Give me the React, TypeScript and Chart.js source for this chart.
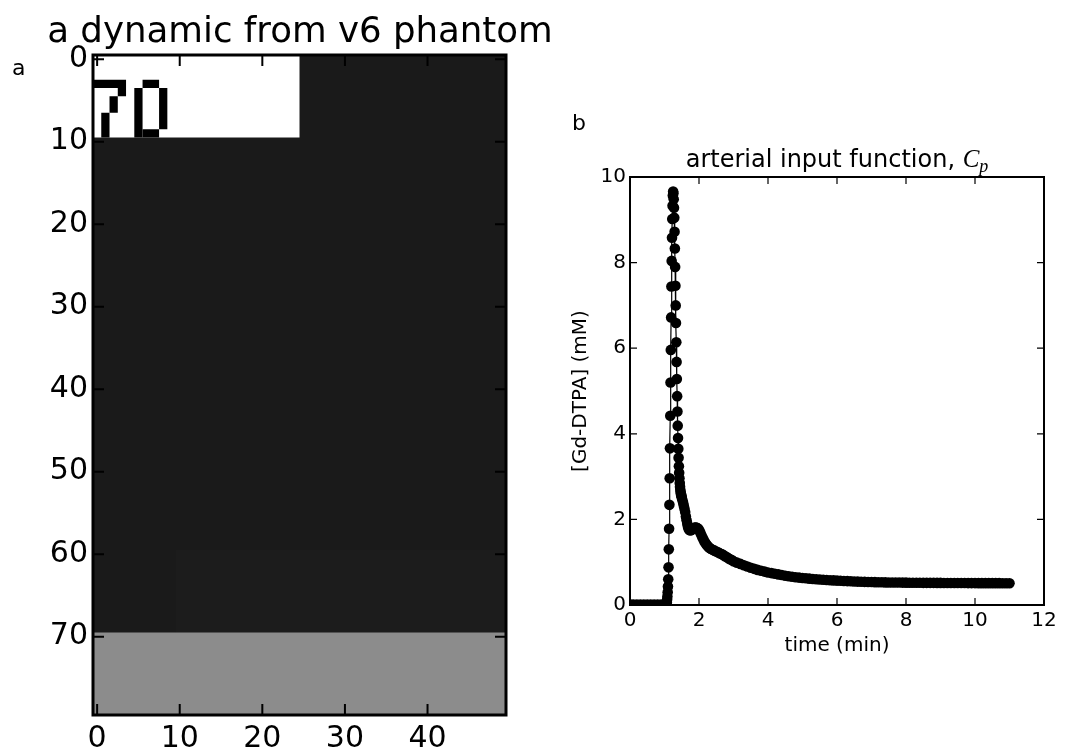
import React, { useEffect, useRef } from "react";
import { Chart, registerables } from "chart.js";

Chart.register(...registerables);

const FONT = '"DejaVu Sans", sans-serif';

// ---------- Panel a : image of the dynamic phantom frame ----------
const imgXTicks = [0, 10, 20, 30, 40];
const imgYTicks = [0, 10, 20, 30, 40, 50, 60, 70];
const imgColsRange = [-0.5, 49.5];
const imgRowsRange = [-0.5, 79.5];
// pixel blocks: [colStart, colEnd, rowStart, rowEnd, grayLevel]
const imgBlocks = [
  [0, 49, 0, 79, 26],
  [10, 49, 60, 69, 28],
  [0, 49, 70, 79, 140],
  [0, 24, 0, 9, 255],
];
// the "70" label pixels (black): [colStart, colEnd, rowStart, rowEnd]
const glyphBlocks = [
  [0, 3, 3, 3],
  [3, 3, 4, 4],
  [2, 2, 5, 6],
  [1, 1, 7, 9],
  [6, 7, 3, 3],
  [5, 5, 4, 9],
  [8, 8, 4, 8],
  [6, 7, 9, 9],
];

// ---------- Panel b : arterial input function ----------
const aifXTicks = [0, 2, 4, 6, 8, 10, 12];
const aifYTicks = [0, 2, 4, 6, 8, 10];

const baselineTime = [0, 0.1, 0.2, 0.3, 0.4, 0.5, 0.6, 0.7, 0.8, 0.9, 1.0, 1.05];
const baselineConc = [0.01, 0.01, 0.01, 0.01, 0.01, 0.01, 0.01, 0.01, 0.01, 0.01, 0.01, 0.01];

const riseTime = [1.058, 1.067, 1.075, 1.083, 1.092, 1.1, 1.108, 1.117, 1.125, 1.133, 1.142, 1.15,
  1.158, 1.167, 1.175, 1.183, 1.192, 1.2, 1.208, 1.217, 1.225, 1.233, 1.242, 1.25];
const riseConc = [0.02, 0.06, 0.12, 0.2, 0.3, 0.43, 0.6, 0.88, 1.3, 1.78, 2.34, 2.96,
  3.66, 4.42, 5.2, 5.96, 6.72, 7.44, 8.04, 8.58, 9.02, 9.33, 9.57, 9.66];

const fallTime = [1.258, 1.267, 1.275, 1.283, 1.292, 1.3, 1.308, 1.317, 1.325, 1.333, 1.342,
  1.35, 1.358, 1.367, 1.375, 1.383, 1.392, 1.4, 1.408, 1.417, 1.425];
const fallConc = [9.62, 9.48, 9.28, 9.05, 8.72, 8.33, 7.9, 7.46, 7.0, 6.59, 6.14,
  5.68, 5.28, 4.88, 4.52, 4.19, 3.9, 3.65, 3.44, 3.24, 3.09];

const washTime = [1.433, 1.442, 1.45, 1.458, 1.467, 1.475, 1.483, 1.492, 1.5,
  1.52, 1.54, 1.56, 1.58, 1.6, 1.62, 1.64, 1.66, 1.68, 1.7,
  1.72, 1.74, 1.76, 1.78, 1.8, 1.83, 1.86, 1.89, 1.92, 1.95, 1.98,
  2.01, 2.04, 2.07, 2.1, 2.13, 2.16, 2.19, 2.22, 2.25, 2.28, 2.31,
  2.35, 2.4, 2.45, 2.5, 2.55, 2.6, 2.65, 2.7, 2.75, 2.8, 2.85, 2.9, 2.95];
const washConc = [2.96, 2.85, 2.76, 2.69, 2.64, 2.6, 2.57, 2.54, 2.51,
  2.45, 2.39, 2.32, 2.25, 2.17, 2.07, 1.98, 1.9, 1.83, 1.78,
  1.755, 1.745, 1.745, 1.755, 1.77, 1.79, 1.805, 1.81, 1.81, 1.8, 1.78,
  1.74, 1.69, 1.63, 1.58, 1.53, 1.48, 1.44, 1.41, 1.38, 1.35, 1.33,
  1.31, 1.29, 1.27, 1.25, 1.23, 1.21, 1.19, 1.17, 1.14, 1.12, 1.09, 1.07, 1.05];

const tailTime = [3.0, 3.1, 3.2, 3.3, 3.4, 3.5, 3.6, 3.7, 3.8, 3.9,
  4.0, 4.1, 4.2, 4.3, 4.4, 4.5, 4.6, 4.7, 4.8, 4.9,
  5.0, 5.1, 5.2, 5.3, 5.4, 5.5, 5.6, 5.7, 5.8, 5.9,
  6.0, 6.1, 6.2, 6.3, 6.4, 6.5, 6.6, 6.7, 6.8, 6.9,
  7.0, 7.1, 7.2, 7.3, 7.4, 7.5, 7.6, 7.7, 7.8, 7.9,
  8.0, 8.1, 8.2, 8.3, 8.4, 8.5, 8.6, 8.7, 8.8, 8.9,
  9.0, 9.1, 9.2, 9.3, 9.4, 9.5, 9.6, 9.7, 9.8, 9.9,
  10.0, 10.1, 10.2, 10.3, 10.4, 10.5, 10.6, 10.7, 10.8, 10.9, 11.0];
const tailConc = [1.02, 0.99, 0.96, 0.93, 0.9, 0.87, 0.845, 0.82, 0.8, 0.78,
  0.76, 0.745, 0.73, 0.715, 0.7, 0.685, 0.672, 0.66, 0.65, 0.64,
  0.632, 0.624, 0.616, 0.609, 0.602, 0.596, 0.59, 0.585, 0.58, 0.575,
  0.57, 0.566, 0.562, 0.558, 0.554, 0.55, 0.547, 0.544, 0.541, 0.538,
  0.536, 0.534, 0.532, 0.53, 0.528, 0.527, 0.526, 0.525, 0.524, 0.523,
  0.522, 0.521, 0.52, 0.52, 0.519, 0.518, 0.518, 0.517, 0.517, 0.516,
  0.516, 0.515, 0.515, 0.514, 0.514, 0.513, 0.513, 0.513, 0.512, 0.512,
  0.512, 0.511, 0.511, 0.511, 0.51, 0.51, 0.51, 0.51, 0.509, 0.509, 0.509];

const aifTime = [...baselineTime, ...riseTime, ...fallTime, ...washTime, ...tailTime];
const aifConc = [...baselineConc, ...riseConc, ...fallConc, ...washConc, ...tailConc];

// ---------- plugins ----------
const pixelImagePlugin = {
  id: "pixelImage",
  beforeDatasetsDraw(chart: any) {
    const { ctx, scales } = chart;
    const x = scales.x;
    const y = scales.y;
    const fill = (c0: number, c1: number, r0: number, r1: number, g: number) => {
      const xa = x.getPixelForValue(c0 - 0.5);
      const xb = x.getPixelForValue(c1 + 0.5);
      const ya = y.getPixelForValue(r0 - 0.5);
      const yb = y.getPixelForValue(r1 + 0.5);
      ctx.fillStyle = `rgb(${g},${g},${g})`;
      ctx.fillRect(Math.min(xa, xb), Math.min(ya, yb), Math.abs(xb - xa), Math.abs(yb - ya));
    };
    ctx.save();
    imgBlocks.forEach((b) => fill(b[0], b[1], b[2], b[3], b[4]));
    glyphBlocks.forEach((b) => fill(b[0], b[1], b[2], b[3], 0));
    ctx.restore();
  },
};

const frameTicksPlugin = {
  id: "frameTicks",
  afterDraw(chart: any, _args: any, opts: any) {
    const { ctx, chartArea: a, scales } = chart;
    const x = scales.x;
    const y = scales.y;
    const L = opts.length;
    ctx.save();
    ctx.strokeStyle = "#000";
    ctx.lineWidth = opts.tickWidth;
    ctx.beginPath();
    x.ticks.forEach((t: any) => {
      const px = x.getPixelForValue(t.value);
      ctx.moveTo(px, a.bottom);
      ctx.lineTo(px, a.bottom - L);
      ctx.moveTo(px, a.top);
      ctx.lineTo(px, a.top + L);
    });
    y.ticks.forEach((t: any) => {
      const py = y.getPixelForValue(t.value);
      ctx.moveTo(a.left, py);
      ctx.lineTo(a.left + L, py);
      ctx.moveTo(a.right, py);
      ctx.lineTo(a.right - L, py);
    });
    ctx.stroke();
    ctx.lineWidth = opts.frameWidth;
    ctx.strokeRect(a.left, a.top, a.right - a.left, a.bottom - a.top);
    ctx.restore();
  },
};

const figTextPlugin = {
  id: "figText",
  afterDraw(chart: any, _args: any, opts: any) {
    const { ctx } = chart;
    ctx.save();
    ctx.fillStyle = "#000";
    ctx.textBaseline = "alphabetic";
    (opts.items || []).forEach((it: any) => {
      ctx.font = it.font;
      ctx.textAlign = it.align || "left";
      ctx.fillText(it.text, it.x, it.y);
    });
    ctx.restore();
  },
};

// title centred above the chart area, with a math-style C_p suffix
const mathTitlePlugin = {
  id: "mathTitle",
  afterDraw(chart: any, _args: any, opts: any) {
    const { ctx, chartArea: a } = chart;
    ctx.save();
    ctx.fillStyle = "#000";
    ctx.textBaseline = "alphabetic";
    ctx.textAlign = "left";
    ctx.font = opts.font;
    const w1 = ctx.measureText(opts.text).width;
    ctx.font = opts.mathFont;
    const w2 = ctx.measureText(opts.math).width;
    ctx.font = opts.subFont;
    const w3 = ctx.measureText(opts.sub).width;
    const total = w1 + w2 + w3;
    const cx = (a.left + a.right) / 2;
    let x0 = cx - total / 2;
    const base = a.top - opts.gap;
    ctx.font = opts.font;
    ctx.fillText(opts.text, x0, base);
    x0 += w1;
    ctx.font = opts.mathFont;
    ctx.fillText(opts.math, x0, base);
    x0 += w2;
    ctx.font = opts.subFont;
    ctx.fillText(opts.sub, x0, base + opts.subDrop);
    ctx.restore();
  },
};

export default function App() {
  const imgRef = useRef<HTMLCanvasElement>(null);
  const aifRef = useRef<HTMLCanvasElement>(null);

  useEffect(() => {
    const imgChart = new Chart(imgRef.current as HTMLCanvasElement, {
      type: "scatter",
      data: { datasets: [] },
      options: {
        responsive: false,
        animation: false,
        devicePixelRatio: 1,
        events: [],
        layout: { padding: { left: 0, top: 55, right: 569, bottom: 0 } },
        plugins: {
          legend: { display: false },
          tooltip: { enabled: false },
          title: { display: false },
          frameTicks: { length: 11, tickWidth: 2, frameWidth: 3 },
          figText: {
            items: [
              { text: "a dynamic from v6 phantom", x: 300, y: 42, font: `35.6px ${FONT}`, align: "center" },
              { text: "a", x: 12, y: 75, font: `22px ${FONT}`, align: "left" },
            ],
          },
        } as any,
        scales: {
          x: {
            type: "linear",
            position: "bottom",
            min: imgColsRange[0],
            max: imgColsRange[1],
            grid: { display: false, drawTicks: false },
            border: { display: false },
            ticks: { font: { family: FONT, size: 30 }, color: "#000", padding: 6, maxRotation: 0, autoSkip: false },
            afterBuildTicks: (s: any) => {
              s.ticks = imgXTicks.map((v) => ({ value: v }));
            },
            afterFit: (s: any) => {
              s.height = 40;
            },
          },
          y: {
            type: "linear",
            position: "left",
            reverse: true,
            min: imgRowsRange[0],
            max: imgRowsRange[1],
            grid: { display: false, drawTicks: false },
            border: { display: false },
            ticks: { font: { family: FONT, size: 30 }, color: "#000", padding: 5, autoSkip: false },
            afterBuildTicks: (s: any) => {
              s.ticks = imgYTicks.map((v) => ({ value: v }));
            },
            afterFit: (s: any) => {
              s.width = 93;
            },
          },
        },
      } as any,
      plugins: [pixelImagePlugin, frameTicksPlugin, figTextPlugin],
    });

    const aifChart = new Chart(aifRef.current as HTMLCanvasElement, {
      type: "scatter",
      data: {
        datasets: [
          {
            data: aifTime.map((t, i) => ({ x: t, y: aifConc[i] })),
            showLine: true,
            borderColor: "#000",
            borderWidth: 1.2,
            backgroundColor: "#000",
            pointBackgroundColor: "#000",
            pointBorderWidth: 0,
            pointRadius: 5.3,
            tension: 0,
            clip: 0,
          } as any,
        ],
      },
      options: {
        responsive: false,
        animation: false,
        devicePixelRatio: 1,
        events: [],
        layout: { padding: { left: 560, top: 177, right: 31, bottom: 90 } },
        plugins: {
          legend: { display: false },
          tooltip: { enabled: false },
          title: { display: false },
          frameTicks: { length: 7, tickWidth: 1.2, frameWidth: 2 },
          figText: { items: [{ text: "b", x: 572, y: 130, font: `22px ${FONT}`, align: "left" }] },
          mathTitle: {
            text: "arterial input function, ",
            math: "C",
            sub: "p",
            font: `24px ${FONT}`,
            mathFont: `italic 25px "Liberation Serif", serif`,
            subFont: `italic 18px "Liberation Serif", serif`,
            subDrop: 5,
            gap: 10,
          },
        } as any,
        scales: {
          x: {
            type: "linear",
            position: "bottom",
            min: 0,
            max: 12,
            grid: { display: false, drawTicks: false },
            border: { display: false },
            ticks: { font: { family: FONT, size: 20 }, color: "#000", padding: 4, maxRotation: 0, autoSkip: false },
            title: { display: true, text: "time (min)", color: "#000", font: { family: FONT, size: 20 }, padding: { top: 0, bottom: 7 } },
            afterBuildTicks: (s: any) => {
              s.ticks = aifXTicks.map((v) => ({ value: v }));
            },
            afterFit: (s: any) => {
              s.height = 60;
            },
          },
          y: {
            type: "linear",
            position: "left",
            min: 0,
            max: 10,
            grid: { display: false, drawTicks: false },
            border: { display: false },
            ticks: { font: { family: FONT, size: 20 }, color: "#000", padding: 4, autoSkip: false },
            title: { display: true, text: "[Gd-DTPA] (mM)", color: "#000", font: { family: FONT, size: 20 }, padding: { top: 9, bottom: 0 } },
            afterBuildTicks: (s: any) => {
              s.ticks = aifYTicks.map((v) => ({ value: v }));
            },
            afterFit: (s: any) => {
              s.width = 70;
            },
          },
        },
      } as any,
      plugins: [frameTicksPlugin, figTextPlugin, mathTitlePlugin],
    });

    return () => {
      imgChart.destroy();
      aifChart.destroy();
    };
  }, []);

  return (
    <div style={{ position: "absolute", left: 0, top: 0, width: 1075, height: 755, background: "#fff" }}>
      <canvas ref={imgRef} width={1075} height={755} style={{ position: "absolute", left: 0, top: 0 }} />
      <canvas ref={aifRef} width={1075} height={755} style={{ position: "absolute", left: 0, top: 0 }} />
    </div>
  );
}
